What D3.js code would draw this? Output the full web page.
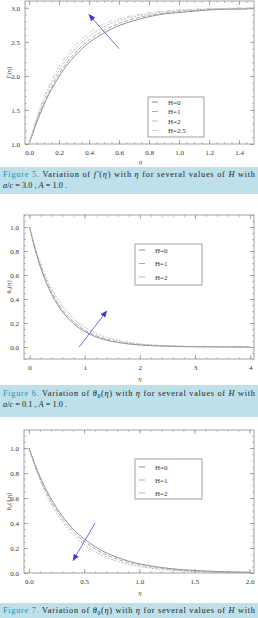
<!DOCTYPE html>
<html>
<head>
<meta charset="utf-8">
<script src="https://cdn.jsdelivr.net/npm/d3@7"></script>
<style>
  body { margin: 0; background: #fff; }
  svg { display: block; }
  text { font-family: 'Liberation Serif', 'DejaVu Serif', serif; }
</style>
</head>
<body>
<div id="chart"></div>
<script>
// ---- figure 5 : f'(eta)
const eta5 = [0, 0.05, 0.1, 0.15, 0.2, 0.25, 0.3, 0.4, 0.5, 0.6, 0.7, 0.8, 0.9, 1.0, 1.1, 1.2, 1.3, 1.4, 1.5];
const f5H0 = [1.0, 1.31, 1.58, 1.80, 1.99, 2.15, 2.28, 2.49, 2.63, 2.74, 2.81, 2.87, 2.91, 2.93, 2.95, 2.97, 2.98, 2.98, 2.99];
const f5H1 = [1.0, 1.33, 1.60, 1.83, 2.03, 2.19, 2.32, 2.53, 2.67, 2.77, 2.84, 2.89, 2.92, 2.95, 2.96, 2.97, 2.98, 2.99, 2.99];
const f5H2 = [1.0, 1.35, 1.65, 1.89, 2.08, 2.25, 2.38, 2.58, 2.72, 2.81, 2.87, 2.91, 2.94, 2.96, 2.97, 2.98, 2.99, 2.99, 3.0];
const f5H25 = [1.0, 1.38, 1.69, 1.93, 2.14, 2.30, 2.43, 2.63, 2.76, 2.84, 2.89, 2.93, 2.95, 2.97, 2.98, 2.99, 2.99, 3.0, 3.0];
const labels5 = ['H=0', 'H=1', 'H=2', 'H=2.5'];
const arrow5 = [[0.6, 2.4], [0.4, 2.9]];

// ---- figure 6 : theta0(eta), a/c = 0.1
const eta6 = [0, 0.1, 0.2, 0.3, 0.4, 0.5, 0.6, 0.7, 0.8, 0.9, 1.0, 1.2, 1.4, 1.6, 1.8, 2.0, 2.5, 3.0, 3.5, 4.0];
const t6H0 = [1.0, 0.815, 0.664, 0.541, 0.440, 0.359, 0.292, 0.238, 0.194, 0.158, 0.129, 0.085, 0.057, 0.038, 0.025, 0.017, 0.006, 0.002, 0.001, 0.0];
const t6H1 = [1.0, 0.823, 0.677, 0.557, 0.458, 0.377, 0.310, 0.255, 0.210, 0.173, 0.142, 0.096, 0.065, 0.044, 0.030, 0.020, 0.008, 0.003, 0.001, 0.0];
const t6H2 = [1.0, 0.835, 0.698, 0.583, 0.487, 0.407, 0.340, 0.284, 0.237, 0.198, 0.165, 0.115, 0.080, 0.056, 0.039, 0.027, 0.011, 0.005, 0.002, 0.001];
const labels6 = ['H=0', 'H=1', 'H=2'];
const arrow6 = [[0.9, 0.0], [1.4, 0.3]];

// ---- figure 7 : theta0(eta)
const eta7 = [0, 0.1, 0.2, 0.3, 0.4, 0.5, 0.6, 0.7, 0.8, 0.9, 1.0, 1.2, 1.4, 1.6, 1.8, 2.0];
const t7H0 = [1.0, 0.771, 0.595, 0.458, 0.353, 0.273, 0.210, 0.162, 0.125, 0.096, 0.074, 0.044, 0.026, 0.016, 0.009, 0.006];
const t7H1 = [1.0, 0.760, 0.577, 0.438, 0.333, 0.253, 0.192, 0.146, 0.111, 0.084, 0.064, 0.037, 0.021, 0.012, 0.007, 0.004];
const t7H2 = [1.0, 0.745, 0.554, 0.413, 0.307, 0.229, 0.170, 0.127, 0.094, 0.070, 0.052, 0.029, 0.016, 0.009, 0.005, 0.003];
const labels7 = ['H=0', 'H=1', 'H=2'];
const arrow7 = [[0.6, 0.4], [0.4, 0.1]];

const lineStyles = [
  { color: '#72728a', dash: null },
  { color: '#979797', dash: '4,2' },
  { color: '#b8a4a4', dash: '2,1.5' },
  { color: '#c6c6c6', dash: '5,2,1,2' }
];

const W = 258, H = 618;
const svg = d3.select('#chart').append('svg')
  .attr('width', W)
  .attr('height', H);

const defs = svg.append('defs');
defs.append('marker')
  .attr('id', 'arrowHead')
  .attr('viewBox', '0 0 10 10')
  .attr('refX', 9)
  .attr('refY', 5)
  .attr('markerWidth', 7)
  .attr('markerHeight', 7)
  .attr('markerUnits', 'userSpaceOnUse')
  .attr('orient', 'auto')
  .append('path')
  .attr('d', 'M0,1 L10,5 L0,9 Z')
  .attr('fill', '#3a3ad8');

function drawPanel(p) {
  const x = d3.scaleLinear().domain(p.xDomain).range([p.left, p.right]);
  const y = d3.scaleLinear().domain(p.yDomain).range([p.bottom, p.top]);
  const g = svg.append('g');
  const fw = p.right - p.left, fh = p.bottom - p.top;

  // frame ticks, inward on all four sides
  const axes = [
    { ax: d3.axisBottom(x), mi: d3.axisBottom(x), tr: `translate(0,${p.bottom})`, lab: true },
    { ax: d3.axisTop(x), mi: d3.axisTop(x), tr: `translate(0,${p.top})`, lab: false },
    { ax: d3.axisLeft(y), mi: d3.axisLeft(y), tr: `translate(${p.left},0)`, lab: true },
    { ax: d3.axisRight(y), mi: d3.axisRight(y), tr: `translate(${p.right},0)`, lab: false }
  ];
  axes.forEach((a, i) => {
    const isX = i < 2;
    const major = isX ? p.xTicks : p.yTicks;
    const minor = isX ? p.xMinor : p.yMinor;
    const ga = g.append('g').attr('transform', a.tr)
      .call(a.mi.tickValues(minor).tickSize(-2).tickFormat(''));
    ga.select('.domain').remove();
    ga.selectAll('line').attr('stroke', '#999').attr('stroke-width', 0.6);
    const gm = g.append('g').attr('transform', a.tr)
      .call(a.ax.tickValues(major).tickSize(-4).tickPadding(isX ? 6 : 5)
        .tickFormat(a.lab ? (isX ? p.xFmt : p.yFmt) : ''));
    gm.select('.domain').remove();
    gm.selectAll('line').attr('stroke', '#888').attr('stroke-width', 0.7);
    gm.selectAll('text')
      .attr('font-family', "'Liberation Serif', serif")
      .attr('font-size', 7)
      .attr('fill', '#333');
  });

  g.append('rect')
    .attr('x', p.left).attr('y', p.top)
    .attr('width', fw).attr('height', fh)
    .attr('fill', 'none').attr('stroke', '#8c8c8c').attr('stroke-width', 0.8);

  const clipId = 'clip' + p.id;
  defs.append('clipPath').attr('id', clipId)
    .append('rect').attr('x', p.left).attr('y', p.top).attr('width', fw).attr('height', fh);

  const line = d3.line()
    .curve(d3.curveMonotoneX)
    .x(d => x(d[0]))
    .y(d => y(d[1]));

  p.series.forEach((s, i) => {
    const st = lineStyles[i];
    g.append('path')
      .datum(p.eta.map((e, k) => [e, s[k]]))
      .attr('clip-path', `url(#${clipId})`)
      .attr('fill', 'none')
      .attr('stroke', st.color)
      .attr('stroke-width', 0.8)
      .attr('stroke-dasharray', st.dash)
      .attr('d', line);
  });

  // arrow
  g.append('line')
    .attr('x1', x(p.arrow[0][0])).attr('y1', y(p.arrow[0][1]))
    .attr('x2', x(p.arrow[1][0])).attr('y2', y(p.arrow[1][1]))
    .attr('stroke', '#5c5ce0')
    .attr('stroke-width', 0.9)
    .attr('marker-end', 'url(#arrowHead)');

  // legend
  const lg = g.append('g');
  lg.append('rect')
    .attr('x', p.legend.x).attr('y', p.legend.y)
    .attr('width', p.legend.w).attr('height', p.legend.h)
    .attr('fill', '#fff').attr('stroke', '#888').attr('stroke-width', 0.8);
  p.labels.forEach((lab, i) => {
    const ly = p.legend.y + p.legend.first + i * p.legend.step;
    const st = lineStyles[i];
    lg.append('line')
      .attr('x1', p.legend.x + 4).attr('x2', p.legend.x + 10)
      .attr('y1', ly).attr('y2', ly)
      .attr('stroke', st.color).attr('stroke-width', 0.8);
    lg.append('text')
      .attr('x', p.legend.x + 20).attr('y', ly + 2.5)
      .attr('font-size', 7).attr('fill', '#333')
      .text(lab);
  });

  // axis titles
  g.append('text')
    .attr('x', (p.left + p.right) / 2 + 1)
    .attr('y', p.xLabelY)
    .attr('text-anchor', 'middle')
    .attr('font-size', 7).attr('font-style', 'italic').attr('fill', '#444')
    .text('η');
  g.append('text')
    .attr('transform', `translate(11,${(p.top + p.bottom) / 2}) rotate(-90)`)
    .attr('text-anchor', 'middle')
    .attr('font-size', 6.5).attr('fill', '#444')
    .text(p.yLabel);
}

function drawCaption(c) {
  const g = svg.append('g');
  g.append('rect')
    .attr('x', 0).attr('y', c.y)
    .attr('width', W).attr('height', c.h)
    .attr('fill', '#bde0ea');
  c.lines.forEach((ln, i) => {
    const t = g.append('text')
      .attr('x', 3)
      .attr('y', c.y + c.first + i * 11)
      .attr('font-size', 8.3)
      .attr('fill', '#222');
    if (ln.full) {
      t.attr('textLength', W - 6).attr('lengthAdjust', 'spacing');
    }
    ln.parts.forEach(pt => {
      const s = t.append('tspan').text(pt.t);
      if (pt.c) s.attr('fill', pt.c);
      if (pt.i) s.attr('font-style', 'italic');
      if (pt.sub) s.attr('font-size', 5.5).attr('dy', 1.5);
      if (pt.up) s.attr('dy', -1.5);
    });
  });
}

const teal = '#2a8fb5';

drawPanel({
  id: 5, left: 25, right: 254, top: 1, bottom: 144,
  xDomain: [-0.027, 1.5], yDomain: [1.0, 3.1],
  xTicks: d3.range(0, 1.41, 0.2), yTicks: [1.0, 1.5, 2.0, 2.5, 3.0],
  xMinor: d3.range(0, 1.5, 0.05), yMinor: d3.range(1.0, 3.1, 0.1),
  xFmt: d3.format('.1f'), yFmt: d3.format('.1f'),
  eta: eta5, series: [f5H0, f5H1, f5H2, f5H25], labels: labels5, arrow: arrow5,
  legend: { x: 148, y: 97, w: 56, h: 40, first: 5, step: 9.5 },
  xLabelY: 164, yLabel: 'f′(η)'
});

drawCaption({
  y: 167, h: 27, first: 10,
  lines: [
    { full: true, parts: [
      { t: 'Figure 5.', c: teal }, { t: ' Variation of  ' }, { t: 'f′', i: true }, { t: '(' }, { t: 'η', i: true },
      { t: ')  with  ' }, { t: 'η', i: true }, { t: '  for several values of ' }, { t: 'H', i: true }, { t: ' with' }
    ] },
    { parts: [ { t: 'a', i: true }, { t: '/' }, { t: 'c', i: true }, { t: ' = 3.0 ,  ' }, { t: 'A', i: true }, { t: ' = 1.0 .' } ] }
  ]
});

drawPanel({
  id: 6, left: 24, right: 254, top: 215, bottom: 359,
  xDomain: [-0.1, 4.07], yDomain: [-0.1, 1.1],
  xTicks: [0, 1, 2, 3, 4], yTicks: [0, 0.2, 0.4, 0.6, 0.8, 1.0],
  xMinor: d3.range(0, 4.01, 0.2), yMinor: d3.range(-0.1, 1.1, 0.05),
  xFmt: d3.format('d'), yFmt: d3.format('.1f'),
  eta: eta6, series: [t6H0, t6H1, t6H2], labels: labels6, arrow: arrow6,
  legend: { x: 135, y: 244, w: 67, h: 41, first: 6, step: 13.5 },
  xLabelY: 381, yLabel: 'θ₀(η)'
});

drawCaption({
  y: 385, h: 32, first: 11,
  lines: [
    { full: true, parts: [
      { t: 'Figure 6.', c: teal }, { t: ' Variation of  ' }, { t: 'θ', i: true }, { t: '0', sub: true }, { t: '(', up: true }, { t: 'η', i: true },
      { t: ')  with  ' }, { t: 'η', i: true }, { t: '  for several values of ' }, { t: 'H', i: true }, { t: ' with' }
    ] },
    { parts: [ { t: 'a', i: true }, { t: '/' }, { t: 'c', i: true }, { t: ' = 0.1 ,  ' }, { t: 'A', i: true }, { t: ' = 1.0 .' } ] }
  ]
});

drawPanel({
  id: 7, left: 24, right: 254, top: 430, bottom: 573,
  xDomain: [-0.045, 2.04], yDomain: [0, 1.145],
  xTicks: [0, 0.5, 1.0, 1.5, 2.0], yTicks: [0, 0.2, 0.4, 0.6, 0.8, 1.0],
  xMinor: d3.range(0, 2.01, 0.1), yMinor: d3.range(0, 1.14, 0.05),
  xFmt: d3.format('.1f'), yFmt: d3.format('.1f'),
  eta: eta7, series: [t7H0, t7H1, t7H2], labels: labels7, arrow: arrow7,
  legend: { x: 135, y: 459, w: 67, h: 40, first: 8, step: 13 },
  xLabelY: 595, yLabel: 'θ₀(J,η)'
});

drawCaption({
  y: 603, h: 15, first: 10,
  lines: [
    { full: true, parts: [
      { t: 'Figure 7.', c: teal }, { t: ' Variation of  ' }, { t: 'θ', i: true }, { t: '0', sub: true }, { t: '(', up: true }, { t: 'η', i: true },
      { t: ')  with  ' }, { t: 'η', i: true }, { t: '  for several values of ' }, { t: 'H', i: true }, { t: ' with' }
    ] }
  ]
});
</script>
</body>
</html>
